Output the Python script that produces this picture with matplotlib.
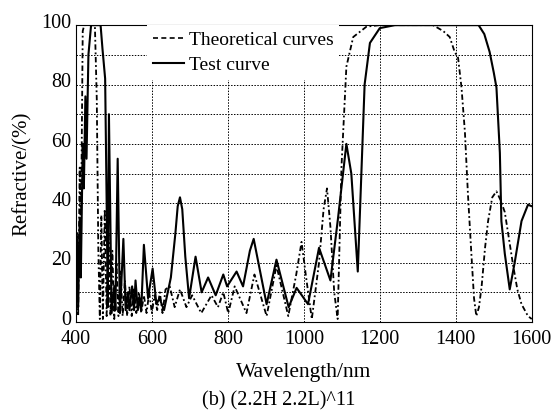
import matplotlib.pyplot as plt
import matplotlib.transforms as mtransforms
from matplotlib.lines import Line2D

# theoretical curve
wl_theo = [400, 403, 406, 410, 413, 418, 422, 450, 455, 459, 463, 467, 471, 476, 481,
           486, 491, 496, 501, 507, 512, 518, 523, 529, 535, 541, 547, 553, 559, 566,
           572, 579, 586, 593, 600, 607, 614, 621, 628, 636, 647, 660, 674, 691, 706,
           722, 730, 757, 774, 788, 801, 818, 849, 870, 902, 928, 959, 980, 994, 1005,
           1021, 1040, 1052, 1061, 1070, 1080, 1089, 1099, 1112, 1130, 1165, 1200,
           1340, 1367, 1384, 1397, 1406, 1415, 1424, 1432, 1441, 1448, 1454, 1461,
           1468, 1477, 1485, 1496, 1507, 1518, 1529, 1540, 1551, 1562, 1573, 1590, 1600]
r_theo = [3, 30, 2, 52, 25, 98, 100, 100, 75, 25, 1, 36, 1, 38, 2,
          30, 2, 24, 1, 20, 2, 17, 2, 14, 2, 12, 2, 11, 3, 10,
          3, 9, 3, 10, 3, 9, 4, 10, 3, 11, 12, 5, 11, 5, 9,
          5, 3, 9, 5, 10, 3, 12, 3, 16, 2, 19, 2, 16, 27, 16,
          1, 20, 38, 45, 32, 10, 1, 52, 86, 96, 99.5, 100,
          100, 98, 96, 91, 89, 79, 64, 43, 23, 8, 2, 5,
          12, 25, 34, 42, 44, 41, 37, 28, 19, 11, 6, 2, 1]

# test curve
wl_test = [400, 403, 406, 410, 413, 418, 421, 425, 428, 433, 440, 465, 470, 477, 481,
           484, 487, 494, 501, 504, 510, 516, 525, 531, 537, 541, 548, 553, 557, 563,
           568, 572, 579, 590, 602, 612, 620, 632, 650, 662, 668, 674, 680, 688, 698,
           715, 731, 748, 768, 788, 798, 823, 840, 858, 868, 902, 928, 960, 981, 1011,
           1040, 1070, 1090, 1112, 1125, 1142, 1150, 1160, 1174, 1200, 1240, 1460, 1475,
           1489, 1500, 1507, 1516, 1520, 1529, 1542, 1555, 1573, 1590, 1600]
r_test = [8, 28, 5, 35, 15, 60, 45, 76, 55, 90, 100, 100, 92, 82, 40,
          5, 70, 3, 12, 4, 55, 3, 28, 4, 10, 4, 12, 4, 14, 4,
          8, 4, 26, 8, 18, 6, 8, 4, 15, 30, 39, 42, 38, 22, 8,
          22, 10, 15, 9, 16, 12, 17, 12, 24, 28, 6, 21, 5, 11.5, 6,
          25, 14, 35, 60, 50, 17, 45, 80, 94, 99, 100, 100, 97,
          91, 84, 79, 57, 34, 23, 11, 20, 34, 39.5, 39]

plt.rcParams['font.family'] = ['Liberation Serif', 'DejaVu Serif']

fig = plt.figure(figsize=(5.58, 4.19), dpi=100)
ax = fig.add_axes([0.136, 0.2315, 0.817, 0.7085])

ax.plot(wl_theo, r_theo, color='black', lw=1.3, ls=(0, (3, 1.5, 1, 1.5)))
ax.plot(wl_test, r_test, color='black', lw=1.5)

ax.set_xlim(400, 1600)
ax.set_ylim(0, 100)
ax.set_xticks(range(400, 1601, 200))
ax.set_yticks(range(0, 101, 20))
ax.set_yticks(range(10, 100, 20), minor=True)
ax.grid(True, which='both', color='black', ls=(0, (1.5, 1.5)), lw=0.7)
ax.tick_params(which='both', length=0, labelsize=14.5)
ax.tick_params(axis='x', pad=6)
ax.tick_params(axis='y', pad=3)
for s in ax.spines.values():
    s.set_linewidth(0.8)

# y tick labels sit a little high in the original
shift = mtransforms.ScaledTranslation(0, 3 / 72, fig.dpi_scale_trans)
for lab in ax.get_yticklabels():
    lab.set_transform(lab.get_transform() + shift)

ax.set_xlabel('Wavelength/nm', fontsize=15.5, labelpad=10)
ax.set_ylabel('Refractive/(%)', fontsize=15, labelpad=7)

handles = [Line2D([], [], color='black', lw=1.2, ls=(0, (3, 2))),
           Line2D([], [], color='black', lw=1.5)]
leg = ax.legend(handles, ['Theoretical curves', 'Test curve'], loc='upper left',
                bbox_to_anchor=(0.156, 1.0), borderaxespad=0, fontsize=14,
                frameon=True, fancybox=False, edgecolor='none', facecolor='white',
                framealpha=1, handlelength=1.6, handletextpad=0.25, labelspacing=0.4,
                borderpad=0.3)
leg.set_zorder(5)

fig.text(0.5, 1 - 401 / 419, '(b) (2.2H 2.2L)^11', ha='center', va='center', fontsize=14.5)

fig.savefig('out.png', dpi=100)
